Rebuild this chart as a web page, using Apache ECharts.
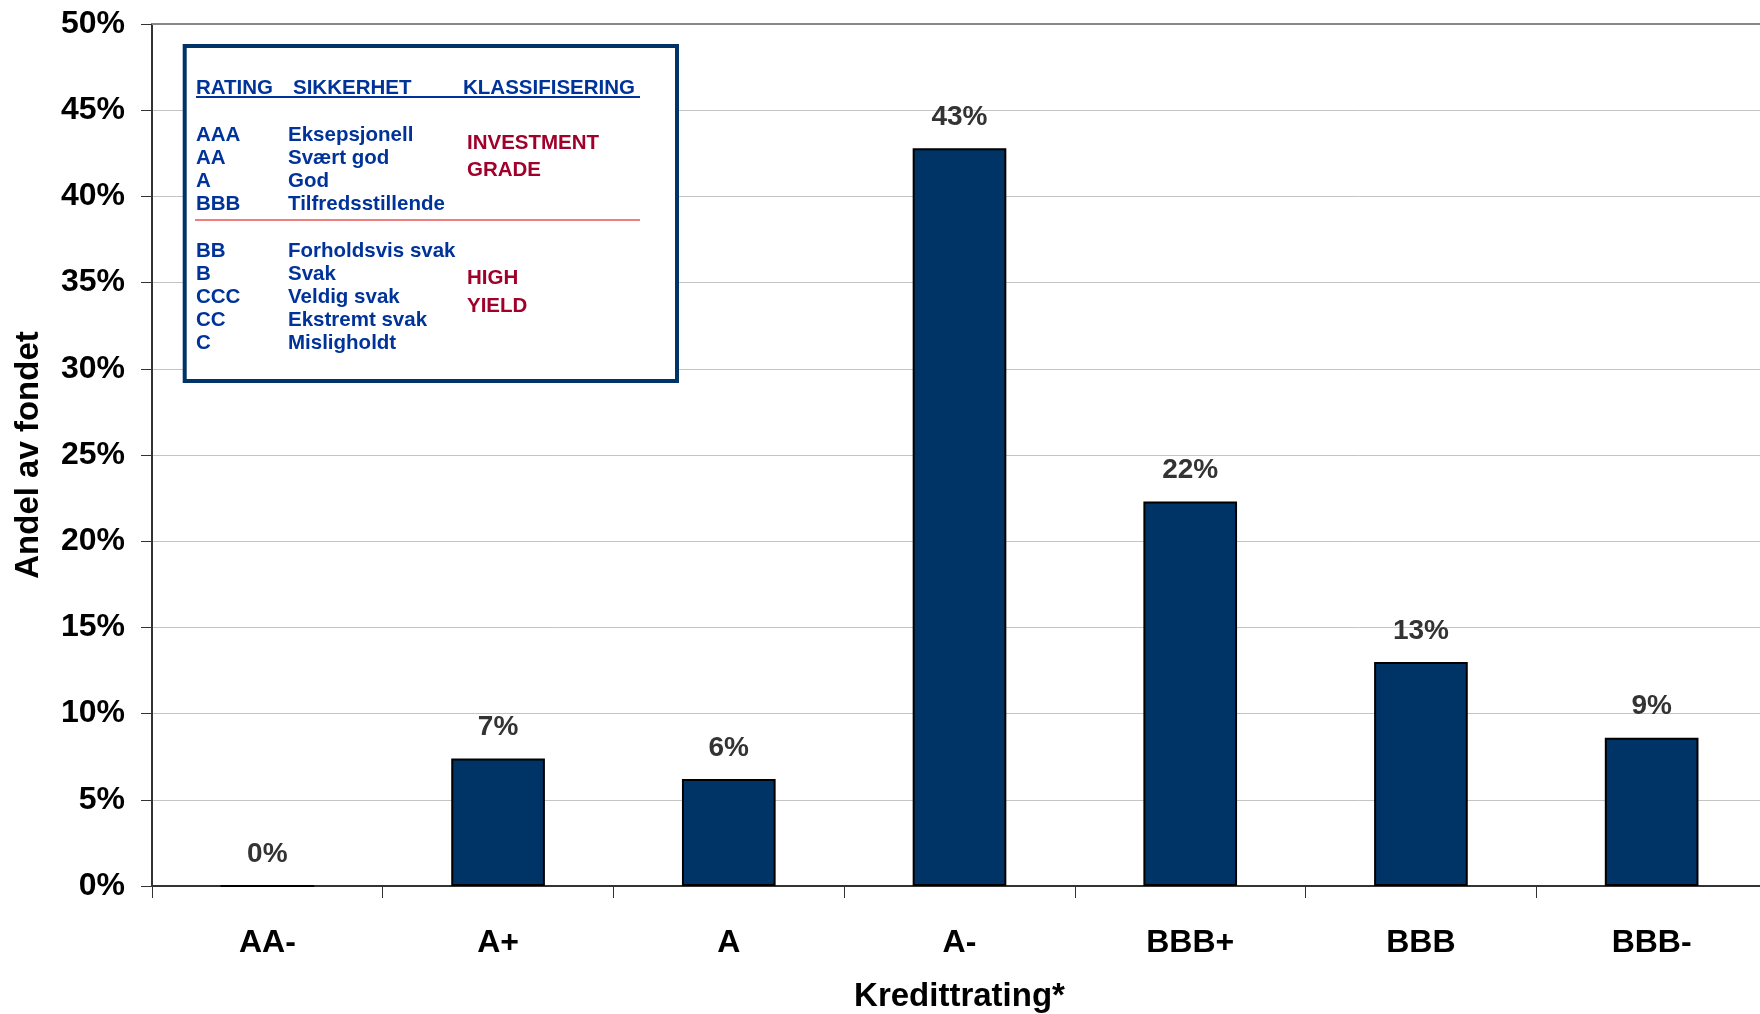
<!DOCTYPE html>
<html>
<head>
<meta charset="utf-8">
<title>Andel av fondet per kredittrating</title>
<script src="https://cdn.jsdelivr.net/npm/echarts@6/dist/echarts.min.js"></script>
<style>
  html, body { margin: 0; padding: 0; background: #ffffff; }
  #chart { width: 1760px; height: 1014px; }
</style>
</head>
<body>
<div id="chart"></div>
<script>
// Fund allocation by credit rating (percent of fund)
const ratingCategories = ['AA-', 'A+', 'A', 'A-', 'BBB+', 'BBB', 'BBB-'];
const fundShare = [0, 7.4, 6.2, 42.8, 22.3, 13.0, 8.6];

// Rating key shown in the framed box
const keyHeaders = ['RATING', 'SIKKERHET', 'KLASSIFISERING'];
const investmentRatings = ['AAA', 'AA', 'A', 'BBB'];
const investmentSafety = ['Eksepsjonell', 'Svært god', 'God', 'Tilfredsstillende'];
const investmentClass = ['INVESTMENT', 'GRADE'];
const highYieldRatings = ['BB', 'B', 'CCC', 'CC', 'C'];
const highYieldSafety = ['Forholdsvis svak', 'Svak', 'Veldig svak', 'Ekstremt svak', 'Misligholdt'];
const highYieldClass = ['HIGH', 'YIELD'];

const FONT = "'Liberation Sans', Arial, Helvetica, sans-serif";
const KEY_BLUE = '#003399';
const KEY_RED = '#A0002A';

function keyText(text, x, y, fill) {
  return {
    type: 'text', x: x, y: y, z: 101,
    style: {
      text: text, fill: fill,
      fontSize: 20.5, fontWeight: 'bold', fontFamily: FONT,
      align: 'left', verticalAlign: 'middle'
    }
  };
}

const keyElements = [];
// frame
keyElements.push({
  type: 'rect', z: 100,
  shape: { x: 184.7, y: 46, width: 492.3, height: 335 },
  style: { fill: '#ffffff', stroke: '#003366', lineWidth: 4 }
});
// header row with underline
const headerX = [196, 293, 463];
keyHeaders.forEach((h, i) => keyElements.push(keyText(h, headerX[i], 88.5, KEY_BLUE)));
keyElements.push({
  type: 'line', z: 101,
  shape: { x1: 196, y1: 97, x2: 640, y2: 97 },
  style: { stroke: KEY_BLUE, lineWidth: 2 }
});
// investment grade block
investmentRatings.forEach((r, i) => {
  keyElements.push(keyText(r, 196, 135 + i * 23.1, KEY_BLUE));
  keyElements.push(keyText(investmentSafety[i], 288, 135 + i * 23.1, KEY_BLUE));
});
investmentClass.forEach((t, i) => keyElements.push(keyText(t, 467, 143.5 + i * 26.8, KEY_RED)));
// divider between the two blocks
keyElements.push({
  type: 'line', z: 101,
  shape: { x1: 195, y1: 220, x2: 640, y2: 220 },
  style: { stroke: '#E00000', lineWidth: 1.2 }
});
// high yield block
highYieldRatings.forEach((r, i) => {
  keyElements.push(keyText(r, 196, 251.5 + i * 23, KEY_BLUE));
  keyElements.push(keyText(highYieldSafety[i], 288, 251.5 + i * 23, KEY_BLUE));
});
highYieldClass.forEach((t, i) => keyElements.push(keyText(t, 467, 278.5 + i * 27.5, KEY_RED)));

const chart = echarts.init(document.getElementById('chart'), null, { renderer: 'canvas' });

chart.setOption({
  backgroundColor: '#ffffff',
  animation: false,
  // plot area runs a little past the right edge of the canvas
  grid: {
    left: 152, width: 1615, top: 24, bottom: 128,
    containLabel: false, outerBoundsMode: 'none'
  },
  xAxis: [
    {
      type: 'category',
      data: ratingCategories,
      position: 'bottom',
      name: 'Kredittrating*',
      nameLocation: 'middle',
      nameGap: 94,
      nameTextStyle: { fontSize: 33, fontWeight: 'bold', fontFamily: FONT, color: '#000' },
      axisLine: { show: true, lineStyle: { color: '#333', width: 2 } },
      axisTick: { show: true, length: 12, lineStyle: { color: '#333', width: 1 } },
      axisLabel: { margin: 41, fontSize: 32, fontWeight: 'bold', fontFamily: FONT, color: '#000' },
      splitLine: { show: false }
    },
    {
      type: 'category',
      data: ratingCategories,
      position: 'top',
      axisLine: { show: true, lineStyle: { color: '#888', width: 2 } },
      axisTick: { show: false },
      axisLabel: { show: false },
      splitLine: { show: false }
    }
  ],
  yAxis: {
    type: 'value',
    min: 0,
    max: 50,
    interval: 5,
    name: 'Andel av fondet',
    nameLocation: 'middle',
    nameGap: 107,
    nameTextStyle: { fontSize: 33, fontWeight: 'bold', fontFamily: FONT, color: '#000' },
    axisLine: { show: true, lineStyle: { color: '#333', width: 2 } },
    axisTick: { show: true, length: 11, lineStyle: { color: '#333', width: 1 } },
    axisLabel: {
      margin: 27, fontSize: 32, fontWeight: 'bold', fontFamily: FONT, color: '#000',
      formatter: '{value}%'
    },
    splitLine: { show: true, lineStyle: { color: '#c4c4c4', width: 1 } }
  },
  series: [
    {
      type: 'bar',
      data: fundShare,
      xAxisIndex: 0,
      barWidth: '40.6%',
      itemStyle: { color: '#003366', borderColor: '#000', borderWidth: 2 },
      label: {
        show: true,
        position: 'top',
        distance: 17,
        fontSize: 28,
        fontWeight: 'bold',
        fontFamily: FONT,
        color: '#333',
        formatter: p => Math.round(p.value) + '%'
      }
    }
  ],
  graphic: keyElements
});
</script>
</body>
</html>
